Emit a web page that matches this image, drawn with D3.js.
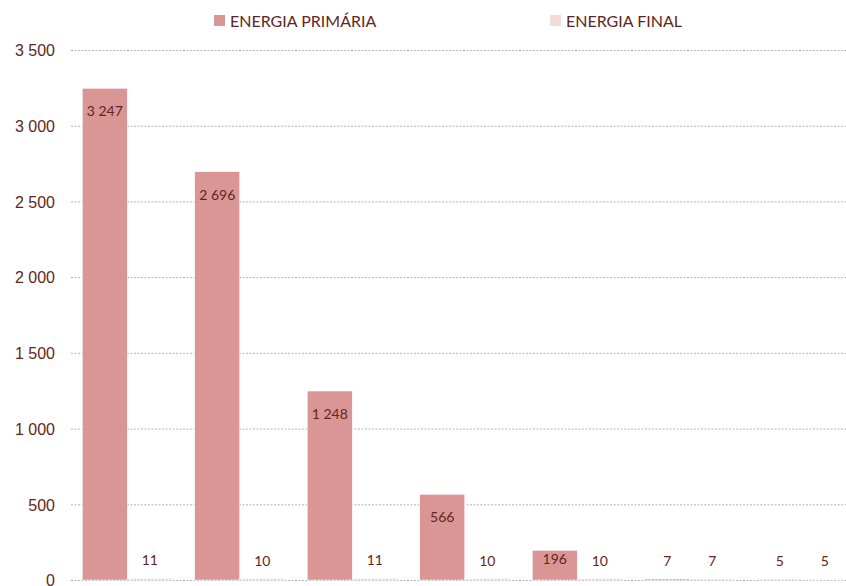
<!DOCTYPE html>
<html>
<head>
<meta charset="utf-8">
<script src="https://cdn.jsdelivr.net/npm/d3@7"></script>
<style>
  body { margin: 0; background: #fff; }
  svg { display: block; font-family: "Lato", "Liberation Sans", sans-serif; }
</style>
</head>
<body>
<div id="chart"></div>
<script>
// values
var categories = ["c1", "c2", "c3", "c4", "c5", "c6", "c7"];
var primaria = [3247, 2696, 1248, 566, 196, 7, 5];
var final = [11, 10, 11, 10, 10, 7, 5];
var seriesNames = ["ENERGIA PRIMÁRIA", "ENERGIA FINAL"];
var yTicks = [0, 500, 1000, 1500, 2000, 2500, 3000, 3500];

var w = 846;
var h = 586;
var colors = ["#d99694", "#f2dcdb"];
var textColor = "#632523";

var locale = d3.formatLocale({ decimal: ",", thousands: " ", grouping: [3], currency: ["", ""] });
var fmt = locale.format(",d");

var svg = d3.select("#chart")
  .append("svg")
  .attr("width", w)
  .attr("height", h);

var y = d3.scaleLinear()
  .domain([0, 3500])
  .range([580, 50]);

var x0 = d3.scaleBand()
  .domain(categories)
  .range([71, 858.5])
  .paddingInner(0.2)
  .paddingOuter(0.1);

var x1 = d3.scaleBand()
  .domain([0, 1])
  .range([0, x0.bandwidth()]);

// gridlines + tick labels
var yAxis = svg.append("g")
  .attr("transform", "translate(71,0)")
  .call(d3.axisLeft(y).tickValues(yTicks).tickSize(-(w - 71)).tickFormat(fmt));

yAxis.select(".domain").remove();
yAxis.selectAll(".tick line")
  .attr("stroke", "#b3b3b3")
  .attr("stroke-dasharray", "2,1.5");
yAxis.selectAll(".tick text")
  .attr("x", -16)
  .attr("dy", "0.36em")
  .attr("fill", textColor)
  .attr("font-size", 16);

var rows = categories.map(function(c, i) {
  return { cat: c, vals: [primaria[i], final[i]] };
});

var group = svg.append("g")
  .selectAll("g")
  .data(rows)
  .enter()
  .append("g")
  .attr("transform", function(d) { return "translate(" + x0(d.cat) + ",0)"; });

var bars = group.selectAll("g.bar")
  .data(function(d) { return d.vals.map(function(v, k) { return { v: v, k: k }; }); })
  .enter()
  .append("g")
  .attr("class", "bar");

bars.append("rect")
  .attr("x", function(d) { return x1(d.k); })
  .attr("y", function(d) { return y(d.v); })
  .attr("width", x1.bandwidth())
  .attr("height", function(d) { return y(0) - y(d.v); })
  .attr("fill", function(d) { return colors[d.k]; })
  .attr("stroke", "#fff")
  .attr("stroke-width", 0.5);

bars.append("text")
  .attr("x", function(d) { return x1(d.k) + x1.bandwidth() / 2; })
  .attr("y", function(d) {
    var top = y(d.v);
    var bh = y(0) - top;
    if (bh > 20) return top + Math.min(23, Math.max(9, bh * 0.3));
    return top - 18;
  })
  .attr("dy", "0.36em")
  .attr("text-anchor", "middle")
  .attr("fill", textColor)
  .attr("font-size", 14)
  .text(function(d) { return fmt(d.v); });

// legend
var legendX = [214, 550];
var legend = svg.append("g")
  .selectAll("g")
  .data(seriesNames)
  .enter()
  .append("g")
  .attr("transform", function(d, i) { return "translate(" + legendX[i] + ",15)"; });

legend.append("rect")
  .attr("width", 11)
  .attr("height", 11)
  .attr("fill", function(d, i) { return colors[i]; });

legend.append("text")
  .attr("x", 16)
  .attr("y", 6)
  .attr("dy", "0.36em")
  .attr("fill", textColor)
  .attr("font-size", 16)
  .text(function(d) { return d; });
</script>
</body>
</html>
